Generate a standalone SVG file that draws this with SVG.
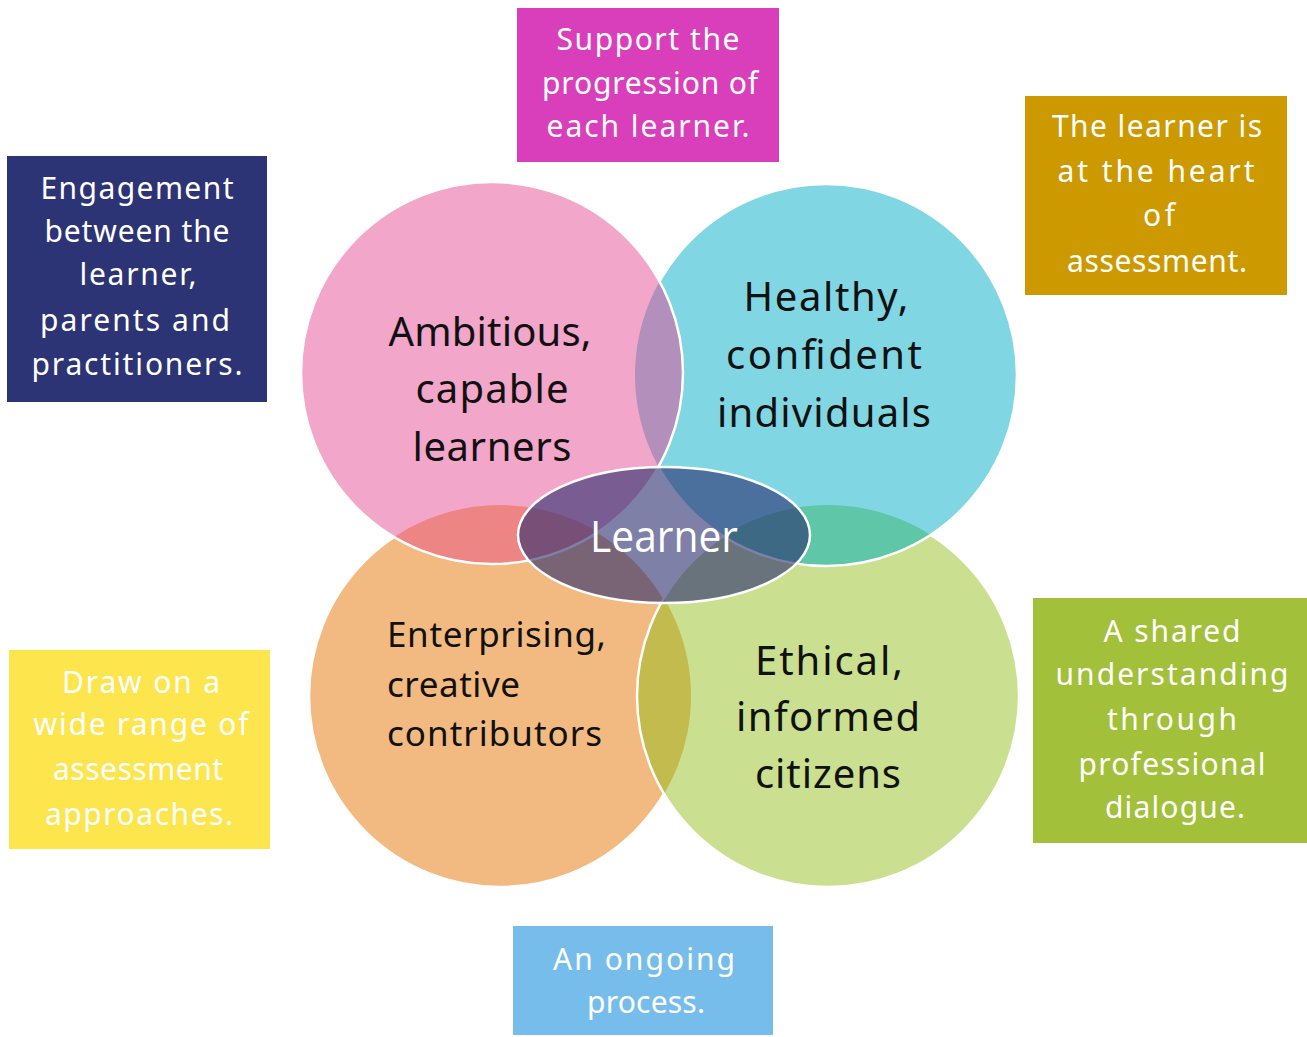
<svg xmlns="http://www.w3.org/2000/svg" width="1307" height="1037" viewBox="0 0 1307 1037">
<style>
.bt{font-family:"Noto Sans","DejaVu Sans",sans-serif;font-size:30px;fill:#ffffff;text-anchor:middle}
.ct{font-family:"Noto Sans","DejaVu Sans",sans-serif;font-size:40px;fill:#111111;text-anchor:middle}
.ctl{font-family:"Noto Sans","DejaVu Sans",sans-serif;font-size:35px;fill:#111111;text-anchor:start}
.st{fill:none;stroke:#ffffff;stroke-width:2.5}
</style>
<defs>
<clipPath id="cpPink"><circle cx="492" cy="373" r="191"/></clipPath>
<clipPath id="cpGreen"><circle cx="828" cy="696" r="191"/></clipPath>
<mask id="mNoPink" maskUnits="userSpaceOnUse" x="0" y="0" width="1307" height="1037"><rect width="1307" height="1037" fill="#fff"/><circle cx="492" cy="373" r="191" fill="#000"/></mask>
<mask id="mNoCyan" maskUnits="userSpaceOnUse" x="0" y="0" width="1307" height="1037"><rect width="1307" height="1037" fill="#fff"/><circle cx="826" cy="375" r="191" fill="#000"/></mask>
<mask id="mNoPinkGreen" maskUnits="userSpaceOnUse" x="0" y="0" width="1307" height="1037"><rect width="1307" height="1037" fill="#fff"/><circle cx="492" cy="373" r="191" fill="#000"/><circle cx="828" cy="696" r="191" fill="#000"/></mask>
</defs>
<rect width="1307" height="1037" fill="#ffffff"/>

<g id="box-support">
<rect x="517" y="8" width="262" height="154" fill="#D93FBA"/>
<text class="bt" x="648" y="50" textLength="183">Support the</text>
<text class="bt" x="650" y="94" textLength="216">progression of</text>
<text class="bt" x="648" y="137" textLength="203">each learner.</text>
</g>
<g id="box-engagement">
<rect x="7" y="156" width="260" height="246" fill="#2C3476"/>
<text class="bt" x="137" y="199" textLength="193">Engagement</text>
<text class="bt" x="137" y="242" textLength="185">between the</text>
<text class="bt" x="138" y="285" textLength="117">learner,</text>
<text class="bt" x="135" y="331" textLength="190">parents and</text>
<text class="bt" x="137" y="375" textLength="211">practitioners.</text>
</g>
<g id="box-heart">
<rect x="1025" y="96" width="262" height="199" fill="#CC9900"/>
<text class="bt" x="1157" y="137" textLength="210">The learner is</text>
<text class="bt" x="1156" y="182" textLength="197">at the heart</text>
<text class="bt" x="1159" y="226" textLength="32">of</text>
<text class="bt" x="1157" y="272" textLength="180">assessment.</text>
</g>
<g id="box-draw">
<rect x="9" y="650" width="261" height="199" fill="#FCE54D"/>
<text class="bt" x="141" y="693" textLength="158">Draw on a</text>
<text class="bt" x="141" y="735" textLength="215">wide range of</text>
<text class="bt" x="138" y="780" textLength="170">assessment</text>
<text class="bt" x="139" y="825" textLength="188">approaches.</text>
</g>
<g id="box-shared">
<rect x="1033" y="598" width="274" height="245" fill="#A3C03A"/>
<text class="bt" x="1172" y="642" textLength="137">A shared</text>
<text class="bt" x="1172" y="685" textLength="233">understanding</text>
<text class="bt" x="1172" y="730" textLength="130">through</text>
<text class="bt" x="1172" y="775" textLength="187">professional</text>
<text class="bt" x="1175" y="818" textLength="140">dialogue.</text>
</g>
<g id="box-ongoing">
<rect x="513" y="926" width="260" height="109" fill="#77BDEC"/>
<text class="bt" x="644" y="970" textLength="182">An ongoing</text>
<text class="bt" x="646" y="1013" textLength="118">process.</text>
</g>

<g id="circles">
<circle id="c-orange" cx="500" cy="696" r="191" fill="#F2BA80"/>
<circle id="c-green" cx="828" cy="696" r="191" fill="#CADF8F"/>
<circle id="c-cyan" cx="826" cy="375" r="191" fill="#80D7E3"/>
<circle id="c-pink" cx="492" cy="373" r="191" fill="#F2A6C9"/>
<circle cx="826" cy="375" r="191" fill="#B38FBB" clip-path="url(#cpPink)"/>
<circle cx="500" cy="696" r="191" fill="#EE8585" clip-path="url(#cpPink)"/>
<circle cx="826" cy="375" r="191" fill="#5FC6A8" clip-path="url(#cpGreen)"/>
<circle cx="500" cy="696" r="191" fill="#C4BB4E" clip-path="url(#cpGreen)"/>
<circle class="st" cx="500" cy="696" r="191" mask="url(#mNoPinkGreen)"/>
<circle class="st" cx="828" cy="696" r="191" mask="url(#mNoCyan)"/>
<circle class="st" cx="826" cy="375" r="191" mask="url(#mNoPink)"/>
<circle class="st" cx="492" cy="373" r="191"/>
</g>

<g id="node-ambitious">
<text class="ct" x="490" y="346" textLength="203">Ambitious,</text>
<text class="ct" x="492" y="403" textLength="153">capable</text>
<text class="ct" x="492" y="461" textLength="159">learners</text>
</g>
<g id="node-healthy">
<text class="ct" x="826" y="311" textLength="165">Healthy,</text>
<text class="ct" x="824" y="369" textLength="196">confident</text>
<text class="ct" x="824" y="427" textLength="214">individuals</text>
</g>
<g id="node-enterprising">
<text class="ctl" x="387" y="647" textLength="219">Enterprising,</text>
<text class="ctl" x="387" y="697" textLength="133">creative</text>
<text class="ctl" x="387" y="746" textLength="215">contributors</text>
</g>
<g id="node-ethical">
<text class="ct" x="829" y="675" textLength="148">Ethical,</text>
<text class="ct" x="828" y="731" textLength="184">informed</text>
<text class="ct" x="828" y="788" textLength="146">citizens</text>
</g>

<g id="node-learner">
<ellipse cx="664" cy="535" rx="146" ry="68" fill="#282B6E" fill-opacity="0.6" stroke="#ffffff" stroke-width="2.5"/>
<text x="664" y="552" font-family="Open Sans, Liberation Sans, sans-serif" font-size="44" fill="#ffffff" text-anchor="middle" textLength="148" lengthAdjust="spacingAndGlyphs">Learner</text>
</g>
</svg>
